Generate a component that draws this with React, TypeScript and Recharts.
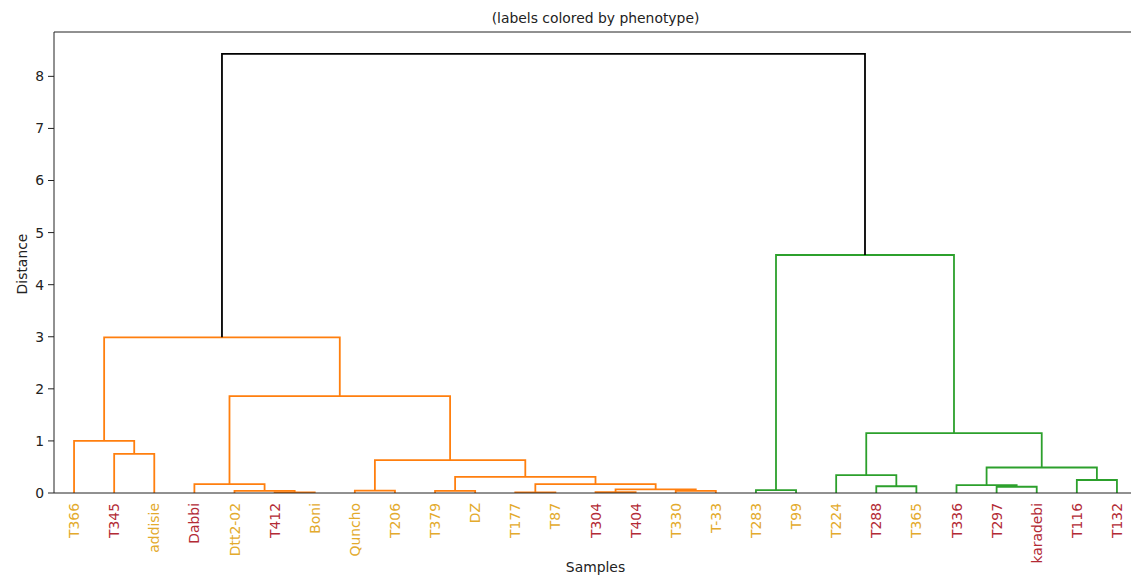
import React from 'react';
import { ComposedChart, Line, XAxis, YAxis, ReferenceLine } from 'recharts';

const FONT = '"DejaVu Sans", sans-serif';

// leaves in dendrogram order
const LEAVES = [
  'T366', 'T345', 'addisie', 'Dabbi', 'Dtt2-02', 'T412', 'Boni', 'Quncho', 'T206',
  'T379', 'DZ', 'T177', 'T87', 'T304', 'T404', 'T330', 'T-33', 'T283', 'T99',
  'T224', 'T288', 'T365', 'T336', 'T297', 'karadebi', 'T116', 'T132',
];

// phenotype group per leaf (y = yellow group, r = red group)
const PHENOTYPE = [
  'y', 'r', 'y', 'r', 'y', 'r', 'y', 'y', 'y',
  'y', 'y', 'y', 'y', 'r', 'r', 'y', 'y', 'y', 'y',
  'y', 'r', 'y', 'r', 'r', 'r', 'r', 'r',
];

const PHENO_COLORS: Record<string, string> = { y: '#e3aa2c', r: '#b32a35' };

// linkage: [left id, right id, distance]; ids >= LEAVES.length refer to earlier merges
const MERGES: [number, number, number][] = [
  [11, 12, 0.01],  // 27
  [13, 14, 0.015], // 28
  [5, 6, 0.01],    // 29
  [15, 16, 0.04],  // 30
  [9, 10, 0.04],   // 31
  [4, 29, 0.04],   // 32
  [7, 8, 0.045],   // 33
  [17, 18, 0.055], // 34
  [28, 30, 0.07],  // 35
  [23, 24, 0.12],  // 36
  [20, 21, 0.13],  // 37
  [22, 36, 0.15],  // 38
  [3, 32, 0.17],   // 39
  [27, 35, 0.17],  // 40
  [25, 26, 0.25],  // 41
  [31, 40, 0.31],  // 42
  [19, 37, 0.345], // 43
  [38, 41, 0.49],  // 44
  [33, 42, 0.63],  // 45
  [1, 2, 0.75],    // 46
  [0, 46, 1.0],    // 47
  [43, 44, 1.15],  // 48
  [39, 45, 1.86],  // 49
  [47, 49, 2.99],  // 50
  [34, 48, 4.57],  // 51
  [50, 51, 8.43],  // 52
];

const Y_TICKS = [0, 1, 2, 3, 4, 5, 6, 7, 8];
const CLUSTER_COLORS = ['#ff7f0e', '#2ca02c'];
const ABOVE_COLOR = '#000000';
const THRESHOLD = 0.7 * 8.43;

const N = LEAVES.length;
const X_MAX = N * 10;
const Y_MAX = 8.43 * 1.05;

// node positions, scipy style: leaves at 5, 15, 25 ...
const nodes: { x: number; h: number }[] = LEAVES.map((_, i) => ({ x: 5 + 10 * i, h: 0 }));
MERGES.forEach(([a, b, h]) => nodes.push({ x: (nodes[a].x + nodes[b].x) / 2, h }));

// colour each link by the cluster below the threshold
const linkColors: string[] = [];
let nextColor = 0;
function paint(id: number, color?: string) {
  if (id < N) return;
  const [a, b, h] = MERGES[id - N];
  let c = color;
  if (!c && h < THRESHOLD) c = CLUSTER_COLORS[nextColor++ % CLUSTER_COLORS.length];
  linkColors[id - N] = c ?? ABOVE_COLOR;
  paint(a, c);
  paint(b, c);
}
paint(nodes.length - 1);

const links = MERGES.map(([a, b, h], i) => ({
  color: linkColors[i],
  points: [
    { x: nodes[a].x, y: nodes[a].h },
    { x: nodes[a].x, y: h },
    { x: nodes[b].x, y: h },
    { x: nodes[b].x, y: nodes[b].h },
  ],
}));

if (typeof document !== 'undefined') {
  document.documentElement.style.overflow = 'hidden';
  document.body.style.overflow = 'hidden';
}

function LeafTick({ x, y, payload }: any) {
  const i = Math.round((payload.value - 5) / 10);
  return (
    <text
      x={x}
      y={y}
      transform={`rotate(-90, ${x}, ${y})`}
      textAnchor="end"
      dominantBaseline="central"
      fontSize={13.9}
      fontFamily={FONT}
      fill={PHENO_COLORS[PHENOTYPE[i]]}
    >
      {LEAVES[i]}
    </text>
  );
}

const textStyle = { fontSize: 13.9, color: '#222' };

export default function App() {
  return (
    <div
      style={{
        position: 'fixed',
        left: 0,
        top: 0,
        width: 1131,
        height: 577,
        overflow: 'hidden',
        background: '#fff',
        fontFamily: FONT,
      }}
    >
      <div style={{ ...textStyle, position: 'absolute', left: 54, width: 1083, top: 10, textAlign: 'center' }}>
        (labels colored by phenotype)
      </div>
      <div style={{ ...textStyle, position: 'absolute', left: 54, width: 1083, top: 559, textAlign: 'center' }}>
        Samples
      </div>
      <div
        style={{
          ...textStyle,
          position: 'absolute',
          left: 22,
          top: 264,
          transform: 'translate(-50%, -50%) rotate(-90deg)',
          whiteSpace: 'nowrap',
        }}
      >
        Distance
      </div>
      <ComposedChart
        width={1151}
        height={577}
        margin={{ top: 32, right: 14, bottom: 0, left: 0 }}
      >
        <XAxis
          dataKey="x"
          type="number"
          domain={[0, X_MAX]}
          ticks={LEAVES.map((_, i) => 5 + 10 * i)}
          interval={0}
          height={84}
          tickLine={false}
          tickSize={0}
          tickMargin={10}
          tick={<LeafTick />}
          axisLine={{ stroke: '#222', strokeWidth: 1 }}
          allowDataOverflow
        />
        <YAxis
          type="number"
          domain={[0, Y_MAX]}
          ticks={Y_TICKS}
          width={54}
          tickSize={6}
          tickMargin={4}
          tickLine={{ stroke: '#222' }}
          axisLine={{ stroke: '#222', strokeWidth: 1 }}
          tick={{ fontSize: 13.9, fill: '#222', fontFamily: FONT }}
          allowDataOverflow
        />
        <ReferenceLine y={Y_MAX} stroke="#222" strokeWidth={1} />
        {links.map((l, i) => (
          <Line
            key={i}
            data={l.points}
            dataKey="y"
            type="linear"
            stroke={l.color}
            strokeWidth={1.8}
            dot={false}
            activeDot={false}
            isAnimationActive={false}
          />
        ))}
      </ComposedChart>
    </div>
  );
}
